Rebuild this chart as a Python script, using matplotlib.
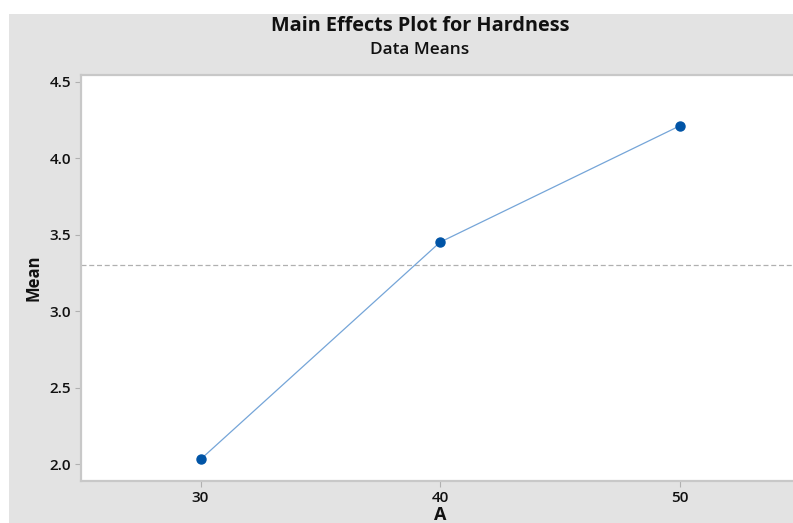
import matplotlib
matplotlib.use("Agg")
import matplotlib.pyplot as plt
from matplotlib.patches import Rectangle

# factor levels and the means at each level
levels = [30, 40, 50]
means = [2.03, 3.45, 4.21]
grand_mean = 3.30

plt.rcParams['font.family'] = ['Open Sans', 'DejaVu Sans']

fig = plt.figure(figsize=(7.93, 5.23), dpi=100)
fig.patch.set_facecolor('white')

# gray panel behind everything
fig.patches.append(Rectangle((9 / 793, 0), 1, 1 - 14 / 523, transform=fig.transFigure,
                             facecolor='#e3e3e3', edgecolor='none', zorder=-5))

ax = fig.add_axes([80.7 / 793, 42 / 523, 718.8 / 793, 406.5 / 523])
ax.set_zorder(1)
ax.set_facecolor('white')

ax.axhline(grand_mean, color='#b0b0b0', lw=0.9, ls=(0, (4, 2.2)), zorder=1)
ax.plot(levels, means, color='#75a5d8', lw=0.9, zorder=2)
ax.plot(levels, means, 'o', color='#0054a6', ms=6.5, zorder=3)

ax.set_xlim(25, 55)
ax.set_ylim(1.889, 4.546)
ax.set_xticks(levels)
ax.set_yticks([2.0, 2.5, 3.0, 3.5, 4.0, 4.5])
ax.set_yticklabels(['2.0', '2.5', '3.0', '3.5', '4.0', '4.5'])

for s in ax.spines.values():
    s.set_color('#c8c8c8')
    s.set_linewidth(1.6)
ax.spines['right'].set_visible(False)

ax.tick_params(axis='both', colors='#b0b0b0', length=4, width=0.8, labelsize=11,
               labelcolor='#111111', pad=3)
for lbl in ax.get_xticklabels() + ax.get_yticklabels():
    lbl.set_fontweight('semibold')

ax.set_ylabel('Mean', fontsize=12, fontweight='bold', color='#111111', labelpad=5)
ax.set_xlabel('A', fontsize=13, fontweight='bold', color='#111111', labelpad=1)

fig.text(420 / 793, 1 - 26 / 523, 'Main Effects Plot for Hardness', ha='center', va='center',
         fontsize=14.3, fontweight='bold', color='#111111')
fig.text(420 / 793, 1 - 50 / 523, 'Data Means', ha='center', va='center',
         fontsize=12.4, fontweight='semibold', color='#111111')

fig.savefig('out.png', dpi=100)
